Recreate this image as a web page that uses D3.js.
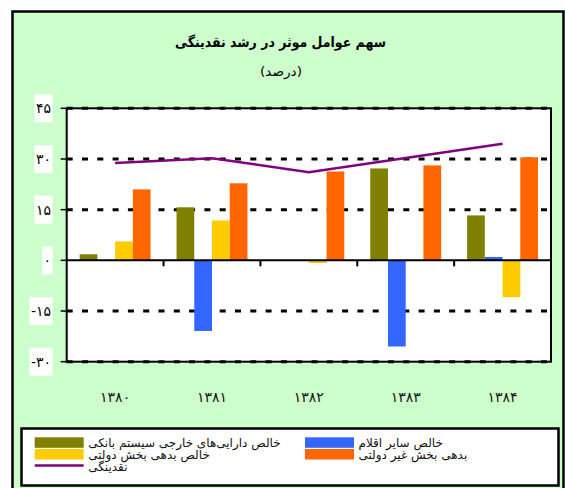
<!DOCTYPE html>
<html><head><meta charset="utf-8">
<script src="https://cdn.jsdelivr.net/npm/d3@7"></script>
<style>
html,body{margin:0;padding:0;background:#fff;}
svg{display:block;}
text{font-family:"DejaVu Sans",sans-serif;}
</style></head>
<body>
<svg id="chart" width="565" height="488"></svg>
<script>
// ---- data ----
const categories = ["۱۳۸۰","۱۳۸۱","۱۳۸۲","۱۳۸۳","۱۳۸۴"];
const seriesNames = ["خالص دارایی‌های خارجی سیستم بانکی","خالص سایر اقلام","خالص بدهی بخش دولتی","بدهی بخش غیر دولتی"];
const foreignAssets = [1.8, 15.7, 0, 27.2, 13.3];
const otherItems    = [0, -20.9, 0, -25.5, 1.0];
const govDebt       = [5.6, 11.8, -0.8, 0, -10.9];
const nonGovDebt    = [21.0, 22.8, 26.3, 28.1, 30.5];
const lineName = "نقدینگی";
const liquidity     = [28.8, 30.2, 26.1, 30.3, 34.5];
const yTicks = [-30, -15, 0, 15, 30, 45];
const titleText = "سهم عوامل موثر در رشد نقدینگی";
const subtitleText = "(درصد)";

const colors = ["#808000", "#3366FF", "#FFCC00", "#FF6600"];
const lineColor = "#800080";
const seriesValues = [foreignAssets, otherItems, govDebt, nonGovDebt];

const fa = s => String(s).replace(/\d/g, d => "۰۱۲۳۴۵۶۷۸۹"[d]);

const svg = d3.select("#chart");

// outer frame
svg.append("rect").attr("x", 12.5).attr("y", 11.5).attr("width", 551).attr("height", 490)
  .attr("fill", "#CCFFCC").attr("stroke", "#000").attr("stroke-width", 2.5);

// title
svg.append("text").attr("x", 280.5).attr("y", 47).attr("text-anchor", "middle")
  .attr("font-size", 14).attr("font-weight", "bold")
  .attr("textLength", 211).attr("lengthAdjust", "spacingAndGlyphs").text(titleText);
svg.append("text").attr("x", 281).attr("y", 76).attr("text-anchor", "middle")
  .attr("font-size", 13)
  .attr("textLength", 42).attr("lengthAdjust", "spacingAndGlyphs").text(subtitleText);

// plot
const L = 66.7, R = 551, T = 108.3, B = 361.7;
const x = d3.scaleBand().domain(categories).range([L, R]).paddingInner(0.268).paddingOuter(0.134);
const xs = d3.scaleBand().domain(d3.range(seriesNames.length)).range([0, x.bandwidth()]);
const y = d3.scaleLinear().domain([-30, 45]).range([B, T]);

svg.append("rect").attr("x", L).attr("y", T).attr("width", R - L).attr("height", B - T).attr("fill", "#fff");

// gridlines
svg.append("g").selectAll("line").data(yTicks.filter(d => d !== 0)).join("line")
  .attr("x1", L).attr("x2", R).attr("y1", d => y(d)).attr("y2", d => y(d))
  .attr("stroke", "#000").attr("stroke-width", 3).attr("stroke-dasharray", "6,9.3");

// bars
const gb = svg.append("g");
seriesValues.forEach((vals, si) => {
  gb.selectAll(null).data(vals).join("rect")
    .attr("x", (d, i) => x(categories[i]) + xs(si))
    .attr("width", xs.bandwidth())
    .attr("y", d => y(Math.max(0, d)))
    .attr("height", d => Math.abs(y(d) - y(0)))
    .attr("fill", colors[si]);
});

// plot border
svg.append("rect").attr("x", L).attr("y", T).attr("width", R - L).attr("height", B - T)
  .attr("fill", "none").attr("stroke", "#000").attr("stroke-width", 2);

// zero axis
svg.append("line").attr("x1", L).attr("x2", R).attr("y1", y(0)).attr("y2", y(0))
  .attr("stroke", "#000").attr("stroke-width", 2);
// category boundary ticks
svg.append("g").selectAll("line").data(categories.slice(1)).join("line")
  .attr("x1", d => x(d) - x.step() * 0.134).attr("x2", d => x(d) - x.step() * 0.134)
  .attr("y1", y(0)).attr("y2", y(0) + 6).attr("stroke", "#000").attr("stroke-width", 2);

// liquidity line
svg.append("path").datum(liquidity)
  .attr("d", d3.line().x((d, i) => x(categories[i]) + x.bandwidth() / 2).y(d => y(d)))
  .attr("fill", "none").attr("stroke", lineColor).attr("stroke-width", 2.5);

// y axis ticks and labels with white boxes
const ya = svg.append("g");
yTicks.forEach(t => {
  ya.append("line").attr("x1", L - 6).attr("x2", L).attr("y1", y(t)).attr("y2", y(t))
    .attr("stroke", "#000").attr("stroke-width", 1.5);
  const g = ya.append("g");
  const bg = g.append("rect").attr("fill", "#fff");
  const tx = g.append("text").attr("x", 51).attr("y", y(t) + 5).attr("text-anchor", "end")
    .attr("font-size", 14).attr("letter-spacing", 0.5).text(fa(t));
  const bb = tx.node().getBBox();
  bg.attr("x", bb.x - 1.5).attr("width", bb.width + 3).attr("y", y(t) - 14).attr("height", 28);
});

// category labels
svg.append("g").selectAll("text").data(categories).join("text")
  .attr("x", d => x(d) + x.bandwidth() / 2).attr("y", 402).attr("text-anchor", "middle")
  .attr("font-size", 14).attr("letter-spacing", 1.5).attr("fill", "#111").text(d => d);

// legend
svg.append("rect").attr("x", 21.5).attr("y", 428.5).attr("width", 537).attr("height", 57)
  .attr("fill", "#fff").attr("stroke", "#000").attr("stroke-width", 2.5);
const legendPos = [[34.7, 437.3], [305, 437.3], [34.7, 449], [305, 449]];
seriesNames.forEach((n, i) => {
  const [lx, ly] = legendPos[i];
  svg.append("rect").attr("x", lx).attr("y", ly).attr("width", 49).attr("height", 10.5).attr("fill", colors[i]);
  svg.append("text").attr("x", lx + 53.5).attr("y", ly + 10).attr("font-size", 12).attr("fill", "#111").text(n);
});
svg.append("line").attr("x1", 34.7).attr("x2", 83.7).attr("y1", 465.5).attr("y2", 465.5)
  .attr("stroke", lineColor).attr("stroke-width", 2.5);
svg.append("text").attr("x", 88.2).attr("y", 471).attr("font-size", 12).attr("fill", "#111").text(lineName);
</script>
</body></html>
